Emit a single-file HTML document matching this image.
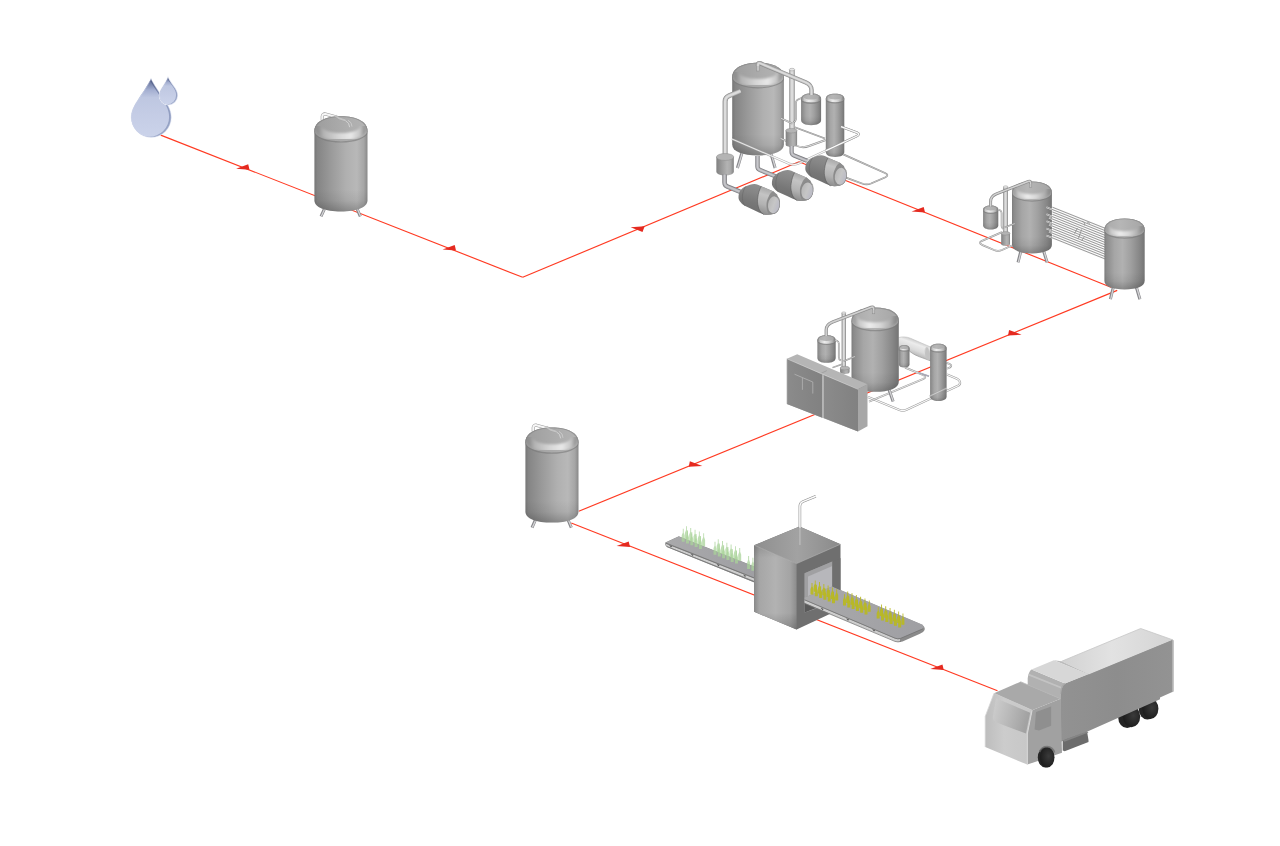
<!DOCTYPE html>
<html><head><meta charset="utf-8"><title>Process flow</title>
<style>html,body{margin:0;padding:0;background:#fff;overflow:hidden;}svg{display:block}</style></head>
<body>
<svg width="1280" height="846" viewBox="0 0 1280 846">
<defs>
<linearGradient id="gBody" x1="0" x2="1" y1="0" y2="0">
 <stop offset="0" stop-color="#767676"/><stop offset="0.06" stop-color="#868686"/>
 <stop offset="0.3" stop-color="#9a9a9a"/><stop offset="0.62" stop-color="#b3b3b3"/>
 <stop offset="0.82" stop-color="#a9a9a9"/><stop offset="0.94" stop-color="#8f8f8f"/>
 <stop offset="1" stop-color="#7c7c7c"/>
</linearGradient>
<linearGradient id="gDome" x1="0" x2="1" y1="0" y2="0">
 <stop offset="0" stop-color="#8a8a8a"/><stop offset="0.12" stop-color="#b4b4b4"/>
 <stop offset="0.5" stop-color="#d9d9d9"/><stop offset="0.85" stop-color="#c4c4c4"/>
 <stop offset="1" stop-color="#8e8e8e"/>
</linearGradient>
<linearGradient id="gCap" x1="0" x2="1" y1="0" y2="0">
 <stop offset="0" stop-color="#a0a0a0"/><stop offset="0.5" stop-color="#adadad"/>
 <stop offset="1" stop-color="#b9b9b9"/>
</linearGradient>
<linearGradient id="gBot" x1="0" x2="0" y1="0" y2="1">
 <stop offset="0" stop-color="#000" stop-opacity="0"/><stop offset="0.5" stop-color="#000" stop-opacity="0.06"/><stop offset="1" stop-color="#000" stop-opacity="0.24"/>
</linearGradient>
<linearGradient id="gPipeV" x1="0" x2="1" y1="0" y2="0">
 <stop offset="0" stop-color="#8c8c8c"/><stop offset="0.35" stop-color="#e2e2e2"/>
 <stop offset="0.7" stop-color="#bdbdbd"/><stop offset="1" stop-color="#858585"/>
</linearGradient>
<filter id="bl" x="-20%" y="-20%" width="140%" height="140%"><feGaussianBlur stdDeviation="0.7"/></filter>
<filter id="bl2" x="-20%" y="-20%" width="140%" height="140%"><feGaussianBlur stdDeviation="1.2"/></filter>
<filter id="soft" x="-5%" y="-5%" width="110%" height="110%"><feGaussianBlur stdDeviation="0.45"/></filter>


<linearGradient id="gBodyL" x1="0" x2="1" y1="0" y2="0">
 <stop offset="0" stop-color="#7c7c7c"/><stop offset="0.05" stop-color="#8b8b8b"/>
 <stop offset="0.25" stop-color="#a6a6a6"/><stop offset="0.45" stop-color="#b1b1b1"/>
 <stop offset="0.65" stop-color="#a0a0a0"/><stop offset="0.86" stop-color="#888888"/>
 <stop offset="1" stop-color="#747474"/>
</linearGradient>
<linearGradient id="gBodyR" x1="0" x2="1" y1="0" y2="0">
 <stop offset="0" stop-color="#767676"/><stop offset="0.06" stop-color="#858585"/>
 <stop offset="0.3" stop-color="#999999"/><stop offset="0.6" stop-color="#b0b0b0"/>
 <stop offset="0.8" stop-color="#b8b8b8"/><stop offset="0.93" stop-color="#a6a6a6"/>
 <stop offset="1" stop-color="#888888"/>
</linearGradient>
<linearGradient id="gDomeL" x1="0" x2="1" y1="0" y2="0">
 <stop offset="0" stop-color="#a0a0a0"/><stop offset="0.1" stop-color="#c8c8c8"/>
 <stop offset="0.36" stop-color="#ececec"/><stop offset="0.62" stop-color="#d8d8d8"/>
 <stop offset="0.86" stop-color="#b2b2b2"/><stop offset="1" stop-color="#8c8c8c"/>
</linearGradient>
<linearGradient id="gDomeR" x1="0" x2="1" y1="0" y2="0">
 <stop offset="0" stop-color="#909090"/><stop offset="0.12" stop-color="#b4b4b4"/>
 <stop offset="0.45" stop-color="#d6d6d6"/><stop offset="0.72" stop-color="#e8e8e8"/>
 <stop offset="0.92" stop-color="#c6c6c6"/><stop offset="1" stop-color="#9c9c9c"/>
</linearGradient>
<linearGradient id="gCapL" x1="0" x2="1" y1="0" y2="0">
 <stop offset="0" stop-color="#a8a8a8"/><stop offset="0.4" stop-color="#b6b6b6"/><stop offset="1" stop-color="#a4a4a4"/>
</linearGradient>
<linearGradient id="gCapR" x1="0" x2="1" y1="0" y2="0">
 <stop offset="0" stop-color="#9c9c9c"/><stop offset="0.6" stop-color="#adadad"/><stop offset="1" stop-color="#b4b4b4"/>
</linearGradient>


<linearGradient id="gDrop" x1="0" x2="0" y1="0" y2="1">
 <stop offset="0" stop-color="#48547e"/><stop offset="0.08" stop-color="#6f7ca4"/>
 <stop offset="0.2" stop-color="#a3aed0"/><stop offset="0.33" stop-color="#bec7e1"/>
 <stop offset="0.6" stop-color="#c4cce5"/><stop offset="1" stop-color="#cbd3ea"/>
</linearGradient>
<linearGradient id="gDropE" x1="0" x2="0" y1="0" y2="1">
 <stop offset="0" stop-color="#48547e"/><stop offset="0.3" stop-color="#8a97bc"/><stop offset="1" stop-color="#9ba7c8"/>
</linearGradient>

<clipPath id="cDb"><path d="M151,78.6 C153.2,84 159.5,92.5 164.8,100.6 C169.2,107 171.2,111.8 171.2,117.4 A19.95,19.95 0 0 1 131.3,117.4 C131.3,111.4 133.6,106.4 137.8,100.2 C143.2,92.2 148.8,84 151,78.6 Z"/></clipPath><clipPath id="cDs"><path d="M168,77.4 C169.3,80.5 172.5,84.5 175,88.3 C176.8,91 177.4,93.2 177.4,95.7 A8.95,8.95 0 0 1 159.5,95.7 C159.5,93 160.3,90.8 162,88.2 C164.3,84.5 166.9,80.5 168,77.4 Z"/></clipPath>
<clipPath id="tc1"><path d="M314.40,130.87 L314.40,200.28 C314.40,207.46 325.02,211.50 340.95,211.50 C356.88,211.50 367.50,207.46 367.50,200.28 L367.50,130.87 C367.50,121.78 356.88,116.20 340.95,116.20 C325.02,116.20 314.40,121.78 314.40,130.87 Z"/></clipPath>
<clipPath id="tc2"><path d="M525.40,442.07 L525.40,511.38 C525.40,518.56 536.02,522.60 551.95,522.60 C567.88,522.60 578.50,518.56 578.50,511.38 L578.50,442.07 C578.50,432.98 567.88,427.40 551.95,427.40 C536.02,427.40 525.40,432.98 525.40,442.07 Z"/></clipPath>

<linearGradient id="gPump" gradientUnits="userSpaceOnUse" x1="22" y1="10" x2="14" y2="38">
 <stop offset="0" stop-color="#8e8e8e"/><stop offset="0.25" stop-color="#868686"/>
 <stop offset="0.6" stop-color="#777"/><stop offset="1" stop-color="#6e6e6e"/>
</linearGradient>
<linearGradient id="gPumpF" gradientUnits="userSpaceOnUse" x1="42" y1="14" x2="34" y2="41">
 <stop offset="0" stop-color="#a2a2a2"/><stop offset="0.3" stop-color="#c4c4c4"/>
 <stop offset="0.65" stop-color="#b2b2b2"/><stop offset="1" stop-color="#8a8a8a"/>
</linearGradient>
<linearGradient id="gFace" x1="0" x2="1" y1="0" y2="0.3">
 <stop offset="0" stop-color="#b4b4b4"/><stop offset="0.6" stop-color="#c6c6c6"/><stop offset="1" stop-color="#bcbcc6"/>
</linearGradient>
<g id="pump">
 <path d="M10.3,23.6 C10.4,20.8 10.9,18.6 12.1,17.1 C13.6,15.2 15.5,13.6 17.7,12.7 C20.4,11.4 23.2,10.5 26,10.3 C28.5,10.2 30.8,11.6 33.1,12.7 L44.9,17.7 C45.8,18.4 46.6,19.4 47.3,20.4 C49,22 50.6,23.6 51.4,25.4 C51.9,27.3 51.9,29.4 51.7,31.3 C51.6,33.2 51.1,35 50.2,36.6 C49,38.6 47.2,40.1 44.9,40.5 C42,41.3 38.5,41.4 35.5,40.8 C32.3,39.6 29.1,38.1 26,36.6 L16.5,32.2 C14.6,31 13,29.5 11.8,27.8 C10.8,26.6 10.3,25.2 10.3,23.6 Z" fill="url(#gPump)"/>
 <path d="M33.1,12.7 L44.9,17.7 C45.8,18.4 46.6,19.4 47.3,20.4 L51.4,25.4 L50.2,36.6 C49,38.6 47.2,40.1 44.9,40.5 C42,41.3 38.5,41.4 35.5,40.8 C32.5,39 30.6,36.2 30.1,33.1 C29.2,29.8 29,26.6 29.6,23.6 C30.1,19.8 31.2,15.7 33.1,12.7 Z" fill="url(#gPumpF)"/>
 <path d="M33.1,12.7 C31.2,15.7 30.1,19.8 29.6,23.6 C29,26.6 29.2,29.8 30.1,33.1 C30.6,36.2 32.5,39 35.5,40.8" fill="none" stroke="#5f5f5f" stroke-width="0.8" stroke-opacity="0.8"/>
 <path d="M17.7,12.7 C15.6,15.5 14.4,19 14.2,22.5 C14,26 14.8,29.5 16.5,32.2" fill="none" stroke="#606060" stroke-width="0.8" stroke-opacity="0.6"/>
 <path d="M44.9,17.7 C42.6,19 41.4,20.8 40.4,23.2 C39,26 38.2,28.4 38.3,31 C38.3,34.2 38.6,37.6 40.4,40.6 L44.9,40.5 L51.4,32 L49,21 Z" fill="#8d8d8d"/>
 <ellipse cx="45.2" cy="31.1" rx="6.5" ry="9.3" fill="#8a8a8a" transform="rotate(8 45.2 31.1)"/>
 <ellipse cx="45.5" cy="31.2" rx="5.7" ry="8.5" fill="url(#gFace)" transform="rotate(8 45.5 31.2)"/>
</g>

<clipPath id="tc3"><path d="M732.20,77.00 L732.20,144.46 C732.20,151.46 742.54,155.40 758.05,155.40 C773.56,155.40 783.90,151.46 783.90,144.46 L783.90,77.00 C783.90,68.13 773.56,62.70 758.05,62.70 C742.54,62.70 732.20,68.13 732.20,77.00 Z"/></clipPath>
<clipPath id="cc1"><path d="M825.80,98.80 L825.80,152.00 C825.80,155.14 829.50,156.90 835.05,156.90 C840.60,156.90 844.30,155.14 844.30,152.00 L844.30,98.80 C844.30,95.64 840.60,93.70 835.05,93.70 C829.50,93.70 825.80,95.64 825.80,98.80 Z"/></clipPath>
<clipPath id="cc2"><path d="M801.10,98.80 L801.10,120.00 C801.10,123.33 805.10,125.20 811.10,125.20 C817.10,125.20 821.10,123.33 821.10,120.00 L821.10,98.80 C821.10,95.45 817.10,93.40 811.10,93.40 C805.10,93.40 801.10,95.45 801.10,98.80 Z"/></clipPath>
<clipPath id="tc4"><path d="M1012.00,192.57 L1012.00,244.82 C1012.00,250.31 1019.98,253.40 1031.95,253.40 C1043.92,253.40 1051.90,250.31 1051.90,244.82 L1051.90,192.57 C1051.90,185.65 1043.92,181.40 1031.95,181.40 C1019.98,181.40 1012.00,185.65 1012.00,192.57 Z"/></clipPath>
<clipPath id="cc3"><path d="M983.10,209.84 L983.10,225.36 C983.10,228.07 986.14,229.60 990.70,229.60 C995.26,229.60 998.30,228.07 998.30,225.36 L998.30,209.84 C998.30,207.09 995.26,205.40 990.70,205.40 C986.14,205.40 983.10,207.09 983.10,209.84 Z"/></clipPath>
<clipPath id="tc5"><path d="M1104.40,229.68 L1104.40,280.74 C1104.40,286.28 1112.46,289.40 1124.55,289.40 C1136.64,289.40 1144.70,286.28 1144.70,280.74 L1144.70,229.68 C1144.70,222.69 1136.64,218.40 1124.55,218.40 C1112.46,218.40 1104.40,222.69 1104.40,229.68 Z"/></clipPath>

<linearGradient id="gThick" gradientUnits="userSpaceOnUse" x1="920" y1="341" x2="914" y2="357">
 <stop offset="0" stop-color="#c6c6c6"/><stop offset="0.25" stop-color="#ececec"/><stop offset="0.6" stop-color="#dadada"/><stop offset="0.85" stop-color="#bcbcbc"/><stop offset="1" stop-color="#9c9c9c"/>
</linearGradient>
<linearGradient id="gPanel" x1="0" x2="1" y1="0" y2="0">
 <stop offset="0" stop-color="#8b8b8b"/><stop offset="1" stop-color="#818181"/>
</linearGradient>

<clipPath id="cc4"><path d="M898.90,348.52 L898.90,364.28 C898.90,366.40 901.02,367.60 904.20,367.60 C907.38,367.60 909.50,366.40 909.50,364.28 L909.50,348.52 C909.50,346.34 907.38,345.00 904.20,345.00 C901.02,345.00 898.90,346.34 898.90,348.52 Z"/></clipPath>
<clipPath id="tc6"><path d="M851.50,320.73 L851.50,381.74 C851.50,388.18 860.96,391.80 875.15,391.80 C889.34,391.80 898.80,388.18 898.80,381.74 L898.80,320.73 C898.80,312.59 889.34,307.60 875.15,307.60 C860.96,307.60 851.50,312.59 851.50,320.73 Z"/></clipPath>
<clipPath id="cc5"><path d="M930.10,348.40 L930.10,396.50 C930.10,399.38 933.40,401.00 938.35,401.00 C943.30,401.00 946.60,399.38 946.60,396.50 L946.60,348.40 C946.60,345.49 943.30,343.70 938.35,343.70 C933.40,343.70 930.10,345.49 930.10,348.40 Z"/></clipPath>
<clipPath id="cc6"><path d="M817.40,340.36 L817.40,357.94 C817.40,361.05 821.06,362.80 826.55,362.80 C832.04,362.80 835.70,361.05 835.70,357.94 L835.70,340.36 C835.70,337.22 832.04,335.30 826.55,335.30 C821.06,335.30 817.40,337.22 817.40,340.36 Z"/></clipPath>

<linearGradient id="gBelt" x1="0" x2="1" y1="0" y2="0">
 <stop offset="0" stop-color="#a9a9ab"/><stop offset="1" stop-color="#9f9fa3"/>
</linearGradient>
<linearGradient id="gBoxL" x1="0" x2="1" y1="0" y2="0">
 <stop offset="0" stop-color="#8a8a8a"/><stop offset="0.12" stop-color="#a6a6a6"/><stop offset="0.5" stop-color="#b2b2b2"/>
 <stop offset="0.85" stop-color="#a4a4a4"/><stop offset="1" stop-color="#8c8c8c"/>
</linearGradient>
<linearGradient id="gBoxLv" x1="0" x2="0" y1="0" y2="1">
 <stop offset="0" stop-color="#000" stop-opacity="0.12"/><stop offset="0.15" stop-color="#000" stop-opacity="0"/>
 <stop offset="0.8" stop-color="#000" stop-opacity="0"/><stop offset="1" stop-color="#000" stop-opacity="0.18"/>
</linearGradient>
<linearGradient id="gBoxT" x1="0" x2="1" y1="0" y2="0">
 <stop offset="0" stop-color="#8e8e8e"/><stop offset="0.5" stop-color="#a2a2a2"/><stop offset="1" stop-color="#8a8a8a"/>
</linearGradient>
<g id="btlG"><path d="M0,0 L-0.35,-6.5 L-1.3,-9 L-1.3,-9.6 L-0.3,-13.8 L0.3,-13.8 L1.3,-9.6 L1.3,-9 L0.35,-6.5 Z" transform="scale(1,0.92)"/></g>


<linearGradient id="gTrTop" x1="0" x2="1" y1="0" y2="0">
 <stop offset="0" stop-color="#d2d2d2"/><stop offset="0.45" stop-color="#e2e2e2"/><stop offset="1" stop-color="#d4d4d4"/>
</linearGradient>
<linearGradient id="gTrSide" x1="0" x2="1" y1="0" y2="0">
 <stop offset="0" stop-color="#929292"/><stop offset="0.5" stop-color="#8d8d8d"/><stop offset="1" stop-color="#939393"/>
</linearGradient>
<linearGradient id="gCabF" x1="0" x2="1" y1="0" y2="0">
 <stop offset="0" stop-color="#bdbdbd"/><stop offset="0.4" stop-color="#cccccc"/><stop offset="1" stop-color="#c6c6c6"/>
</linearGradient>
<linearGradient id="gWind" x1="0" x2="1" y1="0" y2="0.25">
 <stop offset="0" stop-color="#cfcfcf"/><stop offset="0.45" stop-color="#bcbcbc"/><stop offset="1" stop-color="#a2a2a2"/>
</linearGradient>
<radialGradient id="gWheel" cx="0.6" cy="0.45" r="0.6">
 <stop offset="0" stop-color="#3a3a3a"/><stop offset="1" stop-color="#1c1c1c"/>
</radialGradient>
</defs>
<line x1="160.7" y1="135.1" x2="522.7" y2="277.3" stroke="#ff3a22" stroke-width="1.15"/>
<line x1="522.7" y1="277.3" x2="799" y2="161.8" stroke="#ff3a22" stroke-width="1.15"/>
<line x1="799" y1="161.8" x2="1111.5" y2="287.5" stroke="#ff3a22" stroke-width="1.15"/>
<line x1="1117.2" y1="290.4" x2="578.75" y2="511.25" stroke="#ff3a22" stroke-width="1.15"/>
<line x1="571.25" y1="523" x2="997.5" y2="690.75" stroke="#ff3a22" stroke-width="1.15"/>
<path d="M249.5,169.8 L236.1,168.8 L248.2,164.3 Z" fill="#e52a20"/>
<path d="M456,250.5 L442.6,249.5 L454.7,245.0 Z" fill="#e52a20"/>
<path d="M925,212.5 L911.6,211.5 L923.7,207.0 Z" fill="#e52a20"/>
<path d="M630,547 L616.6,546 L628.7,541.5 Z" fill="#e52a20"/>
<path d="M943.75,670 L930.35,669 L942.45,664.5 Z" fill="#e52a20"/>
<path d="M1008,335.5 L1009.1,330.0 L1021.6,334.7 Z" fill="#e52a20"/>
<path d="M688.75,466.75 L689.85,461.25 L702.35,465.95 Z" fill="#e52a20"/>
<path d="M644.7,226.2 L630.6,227.2 L642.5,231.89999999999998 Z" fill="#e52a20"/>
<path d="M151,78.6 C153.2,84 159.5,92.5 164.8,100.6 C169.2,107 171.2,111.8 171.2,117.4 A19.95,19.95 0 0 1 131.3,117.4 C131.3,111.4 133.6,106.4 137.8,100.2 C143.2,92.2 148.8,84 151,78.6 Z" fill="url(#gDropE)"/>
<g clip-path="url(#cDb)"><path d="M151,78.6 C153.2,84 159.5,92.5 164.8,100.6 C169.2,107 171.2,111.8 171.2,117.4 A19.95,19.95 0 0 1 131.3,117.4 C131.3,111.4 133.6,106.4 137.8,100.2 C143.2,92.2 148.8,84 151,78.6 Z" fill="url(#gDrop)" transform="translate(-2.1,-0.5)" filter="url(#bl)"/></g>
<path d="M151,78.6 C153.2,84 159.5,92.5 164.8,100.6 C169.2,107 171.2,111.8 171.2,117.4 A19.95,19.95 0 0 1 131.3,117.4 C131.3,111.4 133.6,106.4 137.8,100.2 C143.2,92.2 148.8,84 151,78.6 Z" fill="none" stroke="#d9dff0" stroke-opacity="0.55" stroke-width="0.9"/>
<path d="M168,77.4 C169.3,80.5 172.5,84.5 175,88.3 C176.8,91 177.4,93.2 177.4,95.7 A8.95,8.95 0 0 1 159.5,95.7 C159.5,93 160.3,90.8 162,88.2 C164.3,84.5 166.9,80.5 168,77.4 Z" fill="#fff" stroke="#eef0f8" stroke-width="1.4"/>
<path d="M168,77.4 C169.3,80.5 172.5,84.5 175,88.3 C176.8,91 177.4,93.2 177.4,95.7 A8.95,8.95 0 0 1 159.5,95.7 C159.5,93 160.3,90.8 162,88.2 C164.3,84.5 166.9,80.5 168,77.4 Z" fill="url(#gDropE)"/>
<g clip-path="url(#cDs)"><path d="M168,77.4 C169.3,80.5 172.5,84.5 175,88.3 C176.8,91 177.4,93.2 177.4,95.7 A8.95,8.95 0 0 1 159.5,95.7 C159.5,93 160.3,90.8 162,88.2 C164.3,84.5 166.9,80.5 168,77.4 Z" fill="url(#gDrop)" transform="translate(-1.3,-0.4)" filter="url(#soft)"/></g>
<path d="M168,77.4 C169.3,80.5 172.5,84.5 175,88.3 C176.8,91 177.4,93.2 177.4,95.7 A8.95,8.95 0 0 1 159.5,95.7 C159.5,93 160.3,90.8 162,88.2 C164.3,84.5 166.9,80.5 168,77.4 Z" fill="none" stroke="#d9dff0" stroke-opacity="0.5" stroke-width="0.7"/>
<path d="M322.29999999999995,120.60000000000001 L322.29999999999995,116.4 Q322.5,113.7 325.4,114.0 L336.4,117.10000000000001" fill="none" stroke="#9a9a9a" stroke-width="3.2" stroke-linejoin="round"/><path d="M322.29999999999995,120.60000000000001 L322.29999999999995,116.4 Q322.5,113.7 325.4,114.0 L336.4,117.10000000000001" fill="none" stroke="#f6f6f6" stroke-width="2.1" stroke-linejoin="round"/>
<line x1="324.2" y1="209.3" x2="321.0" y2="216.3" stroke="#86868a" stroke-width="3.0"/><line x1="324.5" y1="209.3" x2="321.3" y2="216.3" stroke="#d4d4d6" stroke-width="1.3"/>
<line x1="357.1" y1="208.9" x2="360.3" y2="216.3" stroke="#86868a" stroke-width="3.0"/><line x1="357.4" y1="208.9" x2="360.6" y2="216.3" stroke="#d4d4d6" stroke-width="1.3"/>
<path d="M314.40,130.87 L314.40,200.28 C314.40,207.46 325.02,211.50 340.95,211.50 C356.88,211.50 367.50,207.46 367.50,200.28 L367.50,130.87 C367.50,121.78 356.88,116.20 340.95,116.20 C325.02,116.20 314.40,121.78 314.40,130.87 Z" fill="url(#gBodyR)"/>
<g clip-path="url(#tc1)">
<rect x="314.4" y="189.7" width="53.1" height="22.3" fill="url(#gBot)"/>
<path d="M313.40,130.87 L314.40,130.87 A26.55,10.62 0 0 0 367.50,130.87 L368.50,130.87 L368.50,114.20 L313.40,114.20 Z" fill="url(#gCapR)"/>
<path d="M318.38,128.11 A22.57,8.71 0 0 0 363.52,128.11" fill="none" stroke="url(#gDomeR)" stroke-width="7.65" stroke-linecap="round" filter="url(#bl2)"/>
<path d="M314.40,131.87 C314.40,121.78 325.02,116.20 340.95,116.20 C356.88,116.20 367.50,121.78 367.50,131.87" fill="none" stroke="#7e7e7e" stroke-opacity="0.6" stroke-width="1.6" filter="url(#bl)"/>
<path d="M314.40,131.37 A26.55,10.62 0 0 0 367.50,131.37" fill="none" stroke="#787878" stroke-opacity="0.6" stroke-width="1.2" filter="url(#bl)"/>
</g>
<g opacity="0.6"><path d="M335.4,115.8 L339.2,118.4 L345.4,120.4" fill="none" stroke="#a0a0a0" stroke-width="2.8" stroke-linejoin="round"/><path d="M335.4,115.8 L339.2,118.4 L345.4,120.4" fill="none" stroke="#d6d6d6" stroke-width="1.7" stroke-linejoin="round"/></g><path d="M345.4,120.60000000000001 Q349.4,122.60000000000001 349.7,127.2" fill="none" stroke="#d6d6d6" stroke-width="0.9"/><path d="M348.0,120.2 Q352.0,122.2 352.0,126.60000000000001" fill="none" stroke="#cfcfcf" stroke-width="0.8"/>
<path d="M533.3,431.79999999999995 L533.3,427.59999999999997 Q533.5,424.9 536.4,425.2 L547.4,428.29999999999995" fill="none" stroke="#9a9a9a" stroke-width="3.2" stroke-linejoin="round"/><path d="M533.3,431.79999999999995 L533.3,427.59999999999997 Q533.5,424.9 536.4,425.2 L547.4,428.29999999999995" fill="none" stroke="#f6f6f6" stroke-width="2.1" stroke-linejoin="round"/>
<line x1="535.2" y1="520.4" x2="532.0" y2="527.6" stroke="#86868a" stroke-width="3.0"/><line x1="535.5" y1="520.4" x2="532.3" y2="527.6" stroke="#d4d4d6" stroke-width="1.3"/>
<line x1="568.1" y1="520.0" x2="571.3" y2="527.6" stroke="#86868a" stroke-width="3.0"/><line x1="568.4" y1="520.0" x2="571.6" y2="527.6" stroke="#d4d4d6" stroke-width="1.3"/>
<path d="M525.40,442.07 L525.40,511.38 C525.40,518.56 536.02,522.60 551.95,522.60 C567.88,522.60 578.50,518.56 578.50,511.38 L578.50,442.07 C578.50,432.98 567.88,427.40 551.95,427.40 C536.02,427.40 525.40,432.98 525.40,442.07 Z" fill="url(#gBodyR)"/>
<g clip-path="url(#tc2)">
<rect x="525.4" y="500.8" width="53.1" height="22.3" fill="url(#gBot)"/>
<path d="M524.40,442.07 L525.40,442.07 A26.55,10.62 0 0 0 578.50,442.07 L579.50,442.07 L579.50,425.40 L524.40,425.40 Z" fill="url(#gCapR)"/>
<path d="M529.38,439.31 A22.57,8.71 0 0 0 574.52,439.31" fill="none" stroke="url(#gDomeR)" stroke-width="7.65" stroke-linecap="round" filter="url(#bl2)"/>
<path d="M525.40,443.07 C525.40,432.98 536.02,427.40 551.95,427.40 C567.88,427.40 578.50,432.98 578.50,443.07" fill="none" stroke="#7e7e7e" stroke-opacity="0.6" stroke-width="1.6" filter="url(#bl)"/>
<path d="M525.40,442.57 A26.55,10.62 0 0 0 578.50,442.57" fill="none" stroke="#787878" stroke-opacity="0.6" stroke-width="1.2" filter="url(#bl)"/>
</g>
<g opacity="0.6"><path d="M546.4,427.0 L550.1999999999999,429.59999999999997 L556.4,431.59999999999997" fill="none" stroke="#a0a0a0" stroke-width="2.8" stroke-linejoin="round"/><path d="M546.4,427.0 L550.1999999999999,429.59999999999997 L556.4,431.59999999999997" fill="none" stroke="#d6d6d6" stroke-width="1.7" stroke-linejoin="round"/></g><path d="M556.4,431.79999999999995 Q560.4,433.79999999999995 560.6999999999999,438.4" fill="none" stroke="#d6d6d6" stroke-width="0.9"/><path d="M559.0,431.4 Q563.0,433.4 563.0,437.79999999999995" fill="none" stroke="#cfcfcf" stroke-width="0.8"/>
<path d="M733,133.5 L743.5,129 M732.5,138.5 L744,133.5" fill="none" stroke="#8f8f8f" stroke-width="1.7" stroke-linejoin="round"/><path d="M733,133.5 L743.5,129 M732.5,138.5 L744,133.5" fill="none" stroke="#f2f2f2" stroke-width="0.6" stroke-linejoin="round"/>
<path d="M792,130 L792,69.5" fill="none" stroke="#8a8a8a" stroke-width="5.4" stroke-linejoin="round" stroke-linecap="butt"/><path d="M792,130 L792,69.5" fill="none" stroke="#bcbcbc" stroke-width="4.1" stroke-linejoin="round" stroke-linecap="butt"/><path d="M792,130 L792,69.5" fill="none" stroke="#dcdcdc" stroke-width="2.6" stroke-linejoin="round" stroke-linecap="butt"/>
<ellipse cx="792" cy="69.6" rx="2.7" ry="1.3" fill="#e6e6e6" stroke="#9a9a9a" stroke-width="0.5"/>
<path d="M794.8,127.2 L825,138.6" fill="none" stroke="#8a8a8a" stroke-width="1.6" stroke-linejoin="round"/><path d="M794.8,127.2 L825,138.6" fill="none" stroke="#e8e8e8" stroke-width="0.5" stroke-linejoin="round"/>
<line x1="741.8" y1="153.2" x2="737.4" y2="168.0" stroke="#86868a" stroke-width="3.0"/><line x1="742.1" y1="153.2" x2="737.7" y2="168.0" stroke="#d4d4d6" stroke-width="1.3"/>
<line x1="770.7" y1="152.8" x2="775.1" y2="168.0" stroke="#86868a" stroke-width="3.0"/><line x1="771.0" y1="152.8" x2="775.4" y2="168.0" stroke="#d4d4d6" stroke-width="1.3"/>
<path d="M732.20,77.00 L732.20,144.46 C732.20,151.46 742.54,155.40 758.05,155.40 C773.56,155.40 783.90,151.46 783.90,144.46 L783.90,77.00 C783.90,68.13 773.56,62.70 758.05,62.70 C742.54,62.70 732.20,68.13 732.20,77.00 Z" fill="url(#gBodyR)"/>
<g clip-path="url(#tc3)">
<rect x="732.2" y="134.1" width="51.7" height="21.8" fill="url(#gBot)"/>
<path d="M731.20,77.00 L732.20,77.00 A25.85,10.34 0 0 0 783.90,77.00 L784.90,77.00 L784.90,60.70 L731.20,60.70 Z" fill="url(#gCapR)"/>
<path d="M736.08,74.31 A21.97,8.48 0 0 0 780.02,74.31" fill="none" stroke="url(#gDomeR)" stroke-width="7.44" stroke-linecap="round" filter="url(#bl2)"/>
<path d="M732.20,78.00 C732.20,68.13 742.54,62.70 758.05,62.70 C773.56,62.70 783.90,68.13 783.90,78.00" fill="none" stroke="#7e7e7e" stroke-opacity="0.6" stroke-width="1.6" filter="url(#bl)"/>
<path d="M732.20,77.50 A25.85,10.34 0 0 0 783.90,77.50" fill="none" stroke="#787878" stroke-opacity="0.6" stroke-width="1.2" filter="url(#bl)"/>
</g>
<g opacity="0.8"><path d="M732,139 L789,163.6 Q794,165.6 799,163.3 L856.5,136.3 Q860.5,134.3 857,132.6 L841,126.6" fill="none" stroke="#9b9b9b" stroke-width="2.3" stroke-linejoin="round"/><path d="M732,139 L789,163.6 Q794,165.6 799,163.3 L856.5,136.3 Q860.5,134.3 857,132.6 L841,126.6" fill="none" stroke="#fcfcfc" stroke-width="1.2" stroke-linejoin="round"/></g>
<path d="M825.80,98.80 L825.80,152.00 C825.80,155.14 829.50,156.90 835.05,156.90 C840.60,156.90 844.30,155.14 844.30,152.00 L844.30,98.80 C844.30,95.64 840.60,93.70 835.05,93.70 C829.50,93.70 825.80,95.64 825.80,98.80 Z" fill="url(#gBodyL)"/>
<g clip-path="url(#cc1)">
<rect x="825.8" y="148.3" width="18.5" height="9.1" fill="url(#gBot)"/>
<path d="M824.80,98.80 L825.80,98.80 A9.25,3.70 0 0 0 844.30,98.80 L845.30,98.80 L845.30,91.70 L824.80,91.70 Z" fill="url(#gCapL)"/>
<path d="M827.19,97.84 A7.86,3.03 0 0 0 842.91,97.84" fill="none" stroke="url(#gDomeL)" stroke-width="2.66" stroke-linecap="round" filter="url(#bl)"/>
<path d="M825.80,99.80 C825.80,95.64 829.50,93.70 835.05,93.70 C840.60,93.70 844.30,95.64 844.30,99.80" fill="none" stroke="#7e7e7e" stroke-opacity="0.6" stroke-width="1.6" filter="url(#bl)"/>
<path d="M825.80,99.30 A9.25,3.70 0 0 0 844.30,99.30" fill="none" stroke="#787878" stroke-opacity="0.6" stroke-width="1.2" filter="url(#bl)"/>
</g>
<path d="M801.5,98 L798.5,99.2 Q796,100.2 796,102.6 L796,118 Q796,121 793.5,122.5" fill="none" stroke="#8f8f8f" stroke-width="1.7" stroke-linejoin="round"/><path d="M801.5,98 L798.5,99.2 Q796,100.2 796,102.6 L796,118 Q796,121 793.5,122.5" fill="none" stroke="#f2f2f2" stroke-width="0.6" stroke-linejoin="round"/>
<path d="M801.10,98.80 L801.10,120.00 C801.10,123.33 805.10,125.20 811.10,125.20 C817.10,125.20 821.10,123.33 821.10,120.00 L821.10,98.80 C821.10,95.45 817.10,93.40 811.10,93.40 C805.10,93.40 801.10,95.45 801.10,98.80 Z" fill="url(#gBodyL)"/>
<g clip-path="url(#cc2)">
<rect x="801.1" y="116.0" width="20.0" height="9.7" fill="url(#gBot)"/>
<path d="M800.10,98.80 L801.10,98.80 A10.00,4.00 0 0 0 821.10,98.80 L822.10,98.80 L822.10,91.40 L800.10,91.40 Z" fill="url(#gCapL)"/>
<path d="M802.60,97.76 A8.50,3.28 0 0 0 819.60,97.76" fill="none" stroke="url(#gDomeL)" stroke-width="2.88" stroke-linecap="round" filter="url(#bl)"/>
<path d="M801.10,99.80 C801.10,95.45 805.10,93.40 811.10,93.40 C817.10,93.40 821.10,95.45 821.10,99.80" fill="none" stroke="#7e7e7e" stroke-opacity="0.6" stroke-width="1.6" filter="url(#bl)"/>
<path d="M801.10,99.30 A10.00,4.00 0 0 0 821.10,99.30" fill="none" stroke="#787878" stroke-opacity="0.6" stroke-width="1.2" filter="url(#bl)"/>
</g>
<path d="M826,150.6 L856.5,136.3 Q860.5,134.3 857,132.6 L841,126.6" fill="none" stroke="#9b9b9b" stroke-width="2.3" stroke-linejoin="round"/><path d="M826,150.6 L856.5,136.3 Q860.5,134.3 857,132.6 L841,126.6" fill="none" stroke="#fcfcfc" stroke-width="1.2" stroke-linejoin="round"/>
<rect x="756.6" y="64.2" width="2.9" height="6.8" fill="#c4c4c4" stroke="#8d8d8d" stroke-width="0.5"/>
<path d="M758,66 L758,64.6 Q758,62.4 760.5,63.4 L806,82.5 Q811.5,85 811.5,90 L811.5,95" fill="none" stroke="#8a8a8a" stroke-width="4.4" stroke-linejoin="round" stroke-linecap="butt"/><path d="M758,66 L758,64.6 Q758,62.4 760.5,63.4 L806,82.5 Q811.5,85 811.5,90 L811.5,95" fill="none" stroke="#bcbcbc" stroke-width="3.1" stroke-linejoin="round" stroke-linecap="butt"/><path d="M758,66 L758,64.6 Q758,62.4 760.5,63.4 L806,82.5 Q811.5,85 811.5,90 L811.5,95" fill="none" stroke="#dcdcdc" stroke-width="1.6" stroke-linejoin="round" stroke-linecap="butt"/>
<path d="M781,118.3 L792.5,123.6" fill="none" stroke="#8f8f8f" stroke-width="1.8" stroke-linejoin="round"/><path d="M781,118.3 L792.5,123.6" fill="none" stroke="#f2f2f2" stroke-width="0.7" stroke-linejoin="round"/>
<path d="M780.6,138.4 L796,145.5 Q802.5,148.6 809,146 L825.6,140" fill="none" stroke="#8f8f8f" stroke-width="1.9" stroke-linejoin="round"/><path d="M780.6,138.4 L796,145.5 Q802.5,148.6 809,146 L825.6,140" fill="none" stroke="#f2f2f2" stroke-width="0.8" stroke-linejoin="round"/>
<path d="M740.5,91 L729,95.8 Q725.1,97.5 725.1,101.5 L725.1,157" fill="none" stroke="#8a8a8a" stroke-width="5.0" stroke-linejoin="round" stroke-linecap="butt"/><path d="M740.5,91 L729,95.8 Q725.1,97.5 725.1,101.5 L725.1,157" fill="none" stroke="#bcbcbc" stroke-width="3.7" stroke-linejoin="round" stroke-linecap="butt"/><path d="M740.5,91 L729,95.8 Q725.1,97.5 725.1,101.5 L725.1,157" fill="none" stroke="#dcdcdc" stroke-width="2.2" stroke-linejoin="round" stroke-linecap="butt"/>
<path d="M716.4,156.98 L716.4,172.12 A8.7,3.48 0 0 0 733.8000000000001,172.12 L733.8000000000001,156.98 Z" fill="url(#gBody)"/><ellipse cx="725.1" cy="156.98" rx="8.7" ry="3.48" fill="#b4b4b4" stroke="#8a8a8a" stroke-width="0.5"/>
<path d="M724.6,174.5 L724.6,182.6 Q724.6,185.4 727,186.4 L741,192.2" fill="none" stroke="#7c7c80" stroke-width="4.6" stroke-linejoin="round" stroke-linecap="butt"/><path d="M724.6,174.5 L724.6,182.6 Q724.6,185.4 727,186.4 L741,192.2" fill="none" stroke="#a4a4a8" stroke-width="3.3" stroke-linejoin="round" stroke-linecap="butt"/><path d="M724.6,174.5 L724.6,182.6 Q724.6,185.4 727,186.4 L741,192.2" fill="none" stroke="#c4c4c8" stroke-width="1.8" stroke-linejoin="round" stroke-linecap="butt"/>
<path d="M757.5,156 L757.5,166.5 Q757.5,169 760,170 L776,176.5" fill="none" stroke="#7c7c80" stroke-width="4.4" stroke-linejoin="round" stroke-linecap="butt"/><path d="M757.5,156 L757.5,166.5 Q757.5,169 760,170 L776,176.5" fill="none" stroke="#a8a8ac" stroke-width="3.1" stroke-linejoin="round" stroke-linecap="butt"/><path d="M757.5,156 L757.5,166.5 Q757.5,169 760,170 L776,176.5" fill="none" stroke="#c8c8cc" stroke-width="1.6" stroke-linejoin="round" stroke-linecap="butt"/>
<path d="M785.6999999999999,130.68 L785.6999999999999,144.72 A5.7,2.2800000000000002 0 0 0 797.1,144.72 L797.1,130.68 Z" fill="url(#gBody)"/><ellipse cx="791.4" cy="130.68" rx="5.7" ry="2.2800000000000002" fill="#b4b4b4" stroke="#8a8a8a" stroke-width="0.5"/>
<path d="M791.6,146 L791.6,152 Q791.6,154.5 794,155.5 L807,160.8" fill="none" stroke="#7c7c80" stroke-width="4.2" stroke-linejoin="round" stroke-linecap="butt"/><path d="M791.6,146 L791.6,152 Q791.6,154.5 794,155.5 L807,160.8" fill="none" stroke="#a8a8ac" stroke-width="2.9" stroke-linejoin="round" stroke-linecap="butt"/><path d="M791.6,146 L791.6,152 Q791.6,154.5 794,155.5 L807,160.8" fill="none" stroke="#c8c8cc" stroke-width="1.4" stroke-linejoin="round" stroke-linecap="butt"/>
<path d="M843.3,154.4 L885,173 Q889.5,175.2 885.5,177.2 L871,183.5 Q866.5,185.3 862,183.5 L846,177.6" fill="none" stroke="#8c8c8c" stroke-width="1.7" stroke-linejoin="round"/><path d="M843.3,154.4 L885,173 Q889.5,175.2 885.5,177.2 L871,183.5 Q866.5,185.3 862,183.5 L846,177.6" fill="none" stroke="#e4e4e4" stroke-width="0.6" stroke-linejoin="round"/>
<use href="#pump" x="795" y="145"/>
<use href="#pump" x="761.6" y="159.7"/>
<use href="#pump" x="728.2" y="173.6"/>
<path d="M1002,232.2 L982,240.8 Q978,242.8 982,244.8 L994,250 Q998,251.6 1002,250 L1012,245.5" fill="none" stroke="#8f8f8f" stroke-width="1.8" stroke-linejoin="round"/><path d="M1002,232.2 L982,240.8 Q978,242.8 982,244.8 L994,250 Q998,251.6 1002,250 L1012,245.5" fill="none" stroke="#f2f2f2" stroke-width="0.7" stroke-linejoin="round"/>
<path d="M1005.6,233 L1005.6,187" fill="none" stroke="#8a8a8a" stroke-width="4.8" stroke-linejoin="round" stroke-linecap="butt"/><path d="M1005.6,233 L1005.6,187" fill="none" stroke="#bcbcbc" stroke-width="3.5" stroke-linejoin="round" stroke-linecap="butt"/><path d="M1005.6,233 L1005.6,187" fill="none" stroke="#dcdcdc" stroke-width="2.0" stroke-linejoin="round" stroke-linecap="butt"/>
<ellipse cx="1005.6" cy="187" rx="2.4" ry="1.2" fill="#e6e6e6" stroke="#9a9a9a" stroke-width="0.5"/>
<line x1="1020.8" y1="251.2" x2="1018.0" y2="262.4" stroke="#86868a" stroke-width="3.0"/><line x1="1021.1" y1="251.2" x2="1018.3" y2="262.4" stroke="#d4d4d6" stroke-width="1.3"/>
<line x1="1043.5" y1="250.8" x2="1047.1" y2="262.4" stroke="#86868a" stroke-width="3.0"/><line x1="1043.8" y1="250.8" x2="1047.4" y2="262.4" stroke="#d4d4d6" stroke-width="1.3"/>
<path d="M1012.00,192.57 L1012.00,244.82 C1012.00,250.31 1019.98,253.40 1031.95,253.40 C1043.92,253.40 1051.90,250.31 1051.90,244.82 L1051.90,192.57 C1051.90,185.65 1043.92,181.40 1031.95,181.40 C1019.98,181.40 1012.00,185.65 1012.00,192.57 Z" fill="url(#gBodyL)"/>
<g clip-path="url(#tc4)">
<rect x="1012.0" y="236.8" width="39.9" height="17.1" fill="url(#gBot)"/>
<path d="M1011.00,192.57 L1012.00,192.57 A19.95,7.98 0 0 0 1051.90,192.57 L1052.90,192.57 L1052.90,179.40 L1011.00,179.40 Z" fill="url(#gCapL)"/>
<path d="M1014.99,190.50 A16.96,6.54 0 0 0 1048.91,190.50" fill="none" stroke="url(#gDomeL)" stroke-width="5.75" stroke-linecap="round" filter="url(#bl2)"/>
<path d="M1012.00,193.57 C1012.00,185.65 1019.98,181.40 1031.95,181.40 C1043.92,181.40 1051.90,185.65 1051.90,193.57" fill="none" stroke="#7e7e7e" stroke-opacity="0.6" stroke-width="1.6" filter="url(#bl)"/>
<path d="M1012.00,193.07 A19.95,7.98 0 0 0 1051.90,193.07" fill="none" stroke="#787878" stroke-opacity="0.6" stroke-width="1.2" filter="url(#bl)"/>
</g>
<path d="M1052.4,207.20 L1106,228.64 M1046.5,207.20 L1106,231.00 M1052.4,211.92 L1106,233.36 M1052.4,214.28 L1106,235.72 M1046.5,214.28 L1106,238.08 M1049,217.64 L1106,240.44 M1052.4,221.36 L1106,242.80 M1046.5,221.36 L1106,245.16 M1049,224.72 L1106,247.52 M1052.4,228.44 L1106,249.88 M1046.5,228.44 L1106,252.24 M1049,231.80 L1106,254.60 M1052.4,235.52 L1106,256.96 M1046.5,235.52 L1106,259.32" fill="none" stroke="#f4f4f4" stroke-width="1.6"/>
<path d="M1052.4,207.20 L1106,228.64 M1046.5,207.20 L1106,231.00 M1052.4,211.92 L1106,233.36 M1052.4,214.28 L1106,235.72 M1046.5,214.28 L1106,238.08 M1049,217.64 L1106,240.44 M1052.4,221.36 L1106,242.80 M1046.5,221.36 L1106,245.16 M1049,224.72 L1106,247.52 M1052.4,228.44 L1106,249.88 M1046.5,228.44 L1106,252.24 M1049,231.80 L1106,254.60 M1052.4,235.52 L1106,256.96 M1046.5,235.52 L1106,259.32" fill="none" stroke="#7c7c7c" stroke-width="0.75"/>
<path d="M1082,221.2 Q1085.4,222.2 1084.6,225.4 M1087.2,222.2 L1090,223.4 M1077.5,228 L1074.6,233.6 M1081.6,229.4 L1078.4,238.6 M1084.4,236.6 L1081.6,240.6" fill="none" stroke="#8e8e8e" stroke-width="0.8"/>
<path d="M983.10,209.84 L983.10,225.36 C983.10,228.07 986.14,229.60 990.70,229.60 C995.26,229.60 998.30,228.07 998.30,225.36 L998.30,209.84 C998.30,207.09 995.26,205.40 990.70,205.40 C986.14,205.40 983.10,207.09 983.10,209.84 Z" fill="url(#gBodyL)"/>
<g clip-path="url(#cc3)">
<rect x="983.1" y="222.3" width="15.2" height="7.8" fill="url(#gBot)"/>
<path d="M982.10,209.84 L983.10,209.84 A7.60,3.04 0 0 0 998.30,209.84 L999.30,209.84 L999.30,203.40 L982.10,203.40 Z" fill="url(#gCapL)"/>
<path d="M984.24,209.05 A6.46,2.49 0 0 0 997.16,209.05" fill="none" stroke="url(#gDomeL)" stroke-width="2.19" stroke-linecap="round" filter="url(#bl)"/>
<path d="M983.10,210.84 C983.10,207.09 986.14,205.40 990.70,205.40 C995.26,205.40 998.30,207.09 998.30,210.84" fill="none" stroke="#7e7e7e" stroke-opacity="0.6" stroke-width="1.6" filter="url(#bl)"/>
<path d="M983.10,210.34 A7.60,3.04 0 0 0 998.30,210.34" fill="none" stroke="#787878" stroke-opacity="0.6" stroke-width="1.2" filter="url(#bl)"/>
</g>
<path d="M998,209.5 L1000,210.2 Q1001.6,211 1001.6,213 L1001.6,226 Q1001.6,228.3 1003.6,229.2" fill="none" stroke="#8f8f8f" stroke-width="1.7" stroke-linejoin="round"/><path d="M998,209.5 L1000,210.2 Q1001.6,211 1001.6,213 L1001.6,226 Q1001.6,228.3 1003.6,229.2" fill="none" stroke="#f2f2f2" stroke-width="0.6" stroke-linejoin="round"/>
<rect x="1029.4" y="182.2" width="2.4" height="5.4" fill="#c4c4c4" stroke="#8d8d8d" stroke-width="0.5"/>
<path d="M1030.6,184 L1030.6,182.6 Q1030.6,180.6 1028.4,181.4 L996.5,193.8 Q990.6,196.2 990.6,201.5 L990.6,206.5" fill="none" stroke="#8a8a8a" stroke-width="3.0" stroke-linejoin="round" stroke-linecap="butt"/><path d="M1030.6,184 L1030.6,182.6 Q1030.6,180.6 1028.4,181.4 L996.5,193.8 Q990.6,196.2 990.6,201.5 L990.6,206.5" fill="none" stroke="#bcbcbc" stroke-width="1.7" stroke-linejoin="round" stroke-linecap="butt"/><path d="M1030.6,184 L1030.6,182.6 Q1030.6,180.6 1028.4,181.4 L996.5,193.8 Q990.6,196.2 990.6,201.5 L990.6,206.5" fill="none" stroke="#dcdcdc" stroke-width="0.8" stroke-linejoin="round" stroke-linecap="butt"/>
<path d="M1001.2,233.35999999999999 L1001.2,244.04000000000002 A4.4,1.7600000000000002 0 0 0 1010.0,244.04000000000002 L1010.0,233.35999999999999 Z" fill="url(#gBody)"/><ellipse cx="1005.6" cy="233.35999999999999" rx="4.4" ry="1.7600000000000002" fill="#b4b4b4" stroke="#8a8a8a" stroke-width="0.5"/>
<path d="M1004.5,227.6 L1014.8,223.6" fill="none" stroke="#8f8f8f" stroke-width="1.6" stroke-linejoin="round"/><path d="M1004.5,227.6 L1014.8,223.6" fill="none" stroke="#f2f2f2" stroke-width="0.5" stroke-linejoin="round"/>
<line x1="1113.3" y1="287.2" x2="1110.4" y2="299.2" stroke="#86868a" stroke-width="3.0"/><line x1="1113.6" y1="287.2" x2="1110.7" y2="299.2" stroke="#d4d4d6" stroke-width="1.3"/>
<line x1="1136.2" y1="286.8" x2="1139.9" y2="299.2" stroke="#86868a" stroke-width="3.0"/><line x1="1136.5" y1="286.8" x2="1140.2" y2="299.2" stroke="#d4d4d6" stroke-width="1.3"/>
<path d="M1104.40,229.68 L1104.40,280.74 C1104.40,286.28 1112.46,289.40 1124.55,289.40 C1136.64,289.40 1144.70,286.28 1144.70,280.74 L1144.70,229.68 C1144.70,222.69 1136.64,218.40 1124.55,218.40 C1112.46,218.40 1104.40,222.69 1104.40,229.68 Z" fill="url(#gBodyL)"/>
<g clip-path="url(#tc5)">
<rect x="1104.4" y="272.7" width="40.3" height="17.2" fill="url(#gBot)"/>
<path d="M1103.40,229.68 L1104.40,229.68 A20.15,8.06 0 0 0 1144.70,229.68 L1145.70,229.68 L1145.70,216.40 L1103.40,216.40 Z" fill="url(#gCapL)"/>
<path d="M1107.42,227.58 A17.13,6.61 0 0 0 1141.68,227.58" fill="none" stroke="url(#gDomeL)" stroke-width="5.80" stroke-linecap="round" filter="url(#bl2)"/>
<path d="M1104.40,230.68 C1104.40,222.69 1112.46,218.40 1124.55,218.40 C1136.64,218.40 1144.70,222.69 1144.70,230.68" fill="none" stroke="#7e7e7e" stroke-opacity="0.6" stroke-width="1.6" filter="url(#bl)"/>
<path d="M1104.40,230.18 A20.15,8.06 0 0 0 1144.70,230.18" fill="none" stroke="#787878" stroke-opacity="0.6" stroke-width="1.2" filter="url(#bl)"/>
</g>
<path d="M868,397 L899.5,410 Q903,411.4 906.5,409.8 L958.5,385.5 Q960.5,384.3 960,382 Q959.6,380 957,378.8 L947,374.5" fill="none" stroke="#9a9a9a" stroke-width="2.2" stroke-linejoin="round"/><path d="M868,397 L899.5,410 Q903,411.4 906.5,409.8 L958.5,385.5 Q960.5,384.3 960,382 Q959.6,380 957,378.8 L947,374.5" fill="none" stroke="#fbfbfb" stroke-width="1.1" stroke-linejoin="round"/>
<path d="M905,367.5 L923.5,375.2 Q927,377 923.5,378.8 L869,401.6" fill="none" stroke="#9a9a9a" stroke-width="1.9" stroke-linejoin="round"/><path d="M905,367.5 L923.5,375.2 Q927,377 923.5,378.8 L869,401.6" fill="none" stroke="#f6f6f6" stroke-width="0.8" stroke-linejoin="round"/>
<path d="M918.7,372.6 L929,376.2" fill="none" stroke="#9090a0" stroke-width="1.5" stroke-linejoin="round"/><path d="M918.7,372.6 L929,376.2" fill="none" stroke="#e0e0e8" stroke-width="0.4" stroke-linejoin="round"/>
<path d="M946.5,362.8 L950,364.2 Q952.5,365.6 950,367.4 L947,368.8" fill="none" stroke="#9a9a9a" stroke-width="1.8" stroke-linejoin="round"/><path d="M946.5,362.8 L950,364.2 Q952.5,365.6 950,367.4 L947,368.8" fill="none" stroke="#f6f6f6" stroke-width="0.7" stroke-linejoin="round"/>
<path d="M898.5,337.6 C902,336.6 906.5,336.6 910.5,338.3 L931,347.2 L931,361 L919,356.6 C914,354.6 910.5,352.4 908.5,350.4 L898.5,350.4 Z" fill="url(#gThick)"/>
<path d="M898.5,337.6 C902,336.6 906.5,336.6 910.5,338.3 L931,347.2" fill="none" stroke="#c4c4c4" stroke-width="0.7"/>
<path d="M931,361 L919,356.6 C914,354.6 910.5,352.4 908.5,350" fill="none" stroke="#9c9c9c" stroke-width="0.9" stroke-opacity="0.8"/>
<ellipse cx="927.6" cy="353.6" rx="2.6" ry="6.6" fill="#c2c2c2" transform="rotate(-8 927.6 353.6)" filter="url(#bl)"/>
<path d="M898.90,348.52 L898.90,364.28 C898.90,366.40 901.02,367.60 904.20,367.60 C907.38,367.60 909.50,366.40 909.50,364.28 L909.50,348.52 C909.50,346.34 907.38,345.00 904.20,345.00 C901.02,345.00 898.90,346.34 898.90,348.52 Z" fill="url(#gBodyL)"/>
<g clip-path="url(#cc4)">
<rect x="898.9" y="362.2" width="10.6" height="5.9" fill="url(#gBot)"/>
<path d="M897.90,348.52 L898.90,348.52 A5.30,2.12 0 0 0 909.50,348.52 L910.50,348.52 L910.50,343.00 L897.90,343.00 Z" fill="url(#gCapL)"/>
<path d="M899.70,347.97 A4.50,1.74 0 0 0 908.71,347.97" fill="none" stroke="url(#gDomeL)" stroke-width="1.53" stroke-linecap="round" filter="url(#bl)"/>
<path d="M898.90,349.52 C898.90,346.34 901.02,345.00 904.20,345.00 C907.38,345.00 909.50,346.34 909.50,349.52" fill="none" stroke="#7e7e7e" stroke-opacity="0.6" stroke-width="1.6" filter="url(#bl)"/>
<path d="M898.90,349.02 A5.30,2.12 0 0 0 909.50,349.02" fill="none" stroke="#787878" stroke-opacity="0.6" stroke-width="1.2" filter="url(#bl)"/>
</g>
<path d="M843.8,367 L843.8,313" fill="none" stroke="#8a8a8a" stroke-width="4.4" stroke-linejoin="round" stroke-linecap="butt"/><path d="M843.8,367 L843.8,313" fill="none" stroke="#bcbcbc" stroke-width="3.1" stroke-linejoin="round" stroke-linecap="butt"/><path d="M843.8,367 L843.8,313" fill="none" stroke="#dcdcdc" stroke-width="1.6" stroke-linejoin="round" stroke-linecap="butt"/>
<ellipse cx="843.8" cy="313" rx="2.2" ry="1.1" fill="#e6e6e6" stroke="#9a9a9a" stroke-width="0.5"/>
<line x1="861.9" y1="389.6" x2="858.6" y2="401.6" stroke="#86868a" stroke-width="3.0"/><line x1="862.2" y1="389.6" x2="858.9" y2="401.6" stroke="#d4d4d6" stroke-width="1.3"/>
<line x1="888.9" y1="389.2" x2="893.1" y2="401.6" stroke="#86868a" stroke-width="3.0"/><line x1="889.2" y1="389.2" x2="893.4" y2="401.6" stroke="#d4d4d6" stroke-width="1.3"/>
<path d="M851.50,320.73 L851.50,381.74 C851.50,388.18 860.96,391.80 875.15,391.80 C889.34,391.80 898.80,388.18 898.80,381.74 L898.80,320.73 C898.80,312.59 889.34,307.60 875.15,307.60 C860.96,307.60 851.50,312.59 851.50,320.73 Z" fill="url(#gBodyL)"/>
<g clip-path="url(#tc6)">
<rect x="851.5" y="372.3" width="47.3" height="20.0" fill="url(#gBot)"/>
<path d="M850.50,320.73 L851.50,320.73 A23.65,9.46 0 0 0 898.80,320.73 L899.80,320.73 L899.80,305.60 L850.50,305.60 Z" fill="url(#gCapL)"/>
<path d="M855.05,318.27 A20.10,7.76 0 0 0 895.25,318.27" fill="none" stroke="url(#gDomeL)" stroke-width="6.81" stroke-linecap="round" filter="url(#bl2)"/>
<path d="M851.50,321.73 C851.50,312.59 860.96,307.60 875.15,307.60 C889.34,307.60 898.80,312.59 898.80,321.73" fill="none" stroke="#7e7e7e" stroke-opacity="0.6" stroke-width="1.6" filter="url(#bl)"/>
<path d="M851.50,321.23 A23.65,9.46 0 0 0 898.80,321.23" fill="none" stroke="#787878" stroke-opacity="0.6" stroke-width="1.2" filter="url(#bl)"/>
</g>
<path d="M930.10,348.40 L930.10,396.50 C930.10,399.38 933.40,401.00 938.35,401.00 C943.30,401.00 946.60,399.38 946.60,396.50 L946.60,348.40 C946.60,345.49 943.30,343.70 938.35,343.70 C933.40,343.70 930.10,345.49 930.10,348.40 Z" fill="url(#gBodyL)"/>
<g clip-path="url(#cc5)">
<rect x="930.1" y="393.2" width="16.5" height="8.3" fill="url(#gBot)"/>
<path d="M929.10,348.40 L930.10,348.40 A8.25,3.30 0 0 0 946.60,348.40 L947.60,348.40 L947.60,341.70 L929.10,341.70 Z" fill="url(#gCapL)"/>
<path d="M931.34,347.54 A7.01,2.71 0 0 0 945.36,347.54" fill="none" stroke="url(#gDomeL)" stroke-width="2.38" stroke-linecap="round" filter="url(#bl)"/>
<path d="M930.10,349.40 C930.10,345.49 933.40,343.70 938.35,343.70 C943.30,343.70 946.60,345.49 946.60,349.40" fill="none" stroke="#7e7e7e" stroke-opacity="0.6" stroke-width="1.6" filter="url(#bl)"/>
<path d="M930.10,348.90 A8.25,3.30 0 0 0 946.60,348.90" fill="none" stroke="#787878" stroke-opacity="0.6" stroke-width="1.2" filter="url(#bl)"/>
</g>
<g opacity="0.55"><path d="M929.5,396.2 L947,388.1" fill="none" stroke="#9a9a9a" stroke-width="2.2" stroke-linejoin="round"/><path d="M929.5,396.2 L947,388.1" fill="none" stroke="#e8e8e8" stroke-width="1.1" stroke-linejoin="round"/></g>
<path d="M817.40,340.36 L817.40,357.94 C817.40,361.05 821.06,362.80 826.55,362.80 C832.04,362.80 835.70,361.05 835.70,357.94 L835.70,340.36 C835.70,337.22 832.04,335.30 826.55,335.30 C821.06,335.30 817.40,337.22 817.40,340.36 Z" fill="url(#gBodyL)"/>
<g clip-path="url(#cc6)">
<rect x="817.4" y="354.3" width="18.3" height="9.0" fill="url(#gBot)"/>
<path d="M816.40,340.36 L817.40,340.36 A9.15,3.66 0 0 0 835.70,340.36 L836.70,340.36 L836.70,333.30 L816.40,333.30 Z" fill="url(#gCapL)"/>
<path d="M818.77,339.41 A7.78,3.00 0 0 0 834.33,339.41" fill="none" stroke="url(#gDomeL)" stroke-width="2.64" stroke-linecap="round" filter="url(#bl)"/>
<path d="M817.40,341.36 C817.40,337.22 821.06,335.30 826.55,335.30 C832.04,335.30 835.70,337.22 835.70,341.36" fill="none" stroke="#7e7e7e" stroke-opacity="0.6" stroke-width="1.6" filter="url(#bl)"/>
<path d="M817.40,340.86 A9.15,3.66 0 0 0 835.70,340.86" fill="none" stroke="#787878" stroke-opacity="0.6" stroke-width="1.2" filter="url(#bl)"/>
</g>
<path d="M835,340 L837,340.8 Q838.8,341.6 838.8,343.6 L838.8,357 Q838.8,359.6 841,360.6" fill="none" stroke="#8f8f8f" stroke-width="1.7" stroke-linejoin="round"/><path d="M835,340 L837,340.8 Q838.8,341.6 838.8,343.6 L838.8,357 Q838.8,359.6 841,360.6" fill="none" stroke="#f2f2f2" stroke-width="0.6" stroke-linejoin="round"/>
<rect x="872.4" y="307.8" width="2.4" height="6" fill="#c4c4c4" stroke="#8d8d8d" stroke-width="0.5"/>
<path d="M873.6,310 L873.6,308.6 Q873.6,306.4 871.2,307.3 L832.6,322 Q826.2,324.4 826.2,330 L826.2,336" fill="none" stroke="#8a8a8a" stroke-width="3.2" stroke-linejoin="round" stroke-linecap="butt"/><path d="M873.6,310 L873.6,308.6 Q873.6,306.4 871.2,307.3 L832.6,322 Q826.2,324.4 826.2,330 L826.2,336" fill="none" stroke="#bcbcbc" stroke-width="1.9" stroke-linejoin="round" stroke-linecap="butt"/><path d="M873.6,310 L873.6,308.6 Q873.6,306.4 871.2,307.3 L832.6,322 Q826.2,324.4 826.2,330 L826.2,336" fill="none" stroke="#dcdcdc" stroke-width="0.8" stroke-linejoin="round" stroke-linecap="butt"/>
<path d="M843.5,361.2 L855,356.4" fill="none" stroke="#8f8f8f" stroke-width="1.6" stroke-linejoin="round"/><path d="M843.5,361.2 L855,356.4" fill="none" stroke="#f2f2f2" stroke-width="0.5" stroke-linejoin="round"/>
<path d="M832.5,367.6 L842,364.2" fill="none" stroke="#8f8f8f" stroke-width="1.5" stroke-linejoin="round"/><path d="M832.5,367.6 L842,364.2" fill="none" stroke="#f2f2f2" stroke-width="0.4" stroke-linejoin="round"/>
<path d="M840.0999999999999,368.08 L840.0999999999999,372.12 A4.7,1.8800000000000001 0 0 0 849.5,372.12 L849.5,368.08 Z" fill="url(#gBody)"/><ellipse cx="844.8" cy="368.08" rx="4.7" ry="1.8800000000000001" fill="#b4b4b4" stroke="#8a8a8a" stroke-width="0.5"/>
<path d="M786.9,358.8 L797.2,354.2 L867.5,384.2 L858,389.3 Z" fill="#b5b5b5"/>
<path d="M858,389.3 L867.5,384.2 L867.5,426.2 L858,431.4 Z" fill="#a7a7a7"/>
<path d="M786.9,358.8 L858,389.3 L858,431.4 L786.9,403.9 Z" fill="#b4b4b4"/>
<path d="M786.9,358.8 L822.2,374.6 L822.2,417.7 L786.9,403.9 Z" fill="url(#gPanel)"/>
<path d="M823.6,375.1 L858,389.3 L858,431.4 L823.6,417.9 Z" fill="url(#gPanel)"/>
<path d="M823,375.4 L823,418" stroke="#b9b9b9" stroke-width="1.4"/>
<path d="M820.6,373.6 L826.8,370.6" stroke="#9a9a9a" stroke-width="0.8"/>
<path d="M787.4,360.2 L787.4,403.6" stroke="#9c9c9c" stroke-width="1" stroke-opacity="0.8"/>
<path d="M786.9,358.8 L858,389.3" stroke="#c6c6c6" stroke-width="0.7" fill="none"/>
<path d="M794.5,374.2 L812.8,382 L812.8,393.6 M802.4,377.8 L802.4,389.8" stroke="#b4b4b4" stroke-width="0.8" fill="none"/>
<path d="M665.3,542.6 L678.8,536.2 L754.5,566.4 L754.5,582.4 L666.5,546.8 Q664.6,545.2 665.3,542.6 Z" fill="#8b8b8b"/>
<path d="M666,542.4 L678.8,536.6 L754.5,566.8 L754.5,577.4 Z" fill="url(#gBelt)"/>
<path d="M665.6,543.6 L754.5,578.6 L754.5,581 L666.6,546 Z" fill="#cfcfcf"/>
<path d="M665.6,543.2 L754.5,578.2" stroke="#6f6f6f" stroke-width="0.7"/>
<path d="M666.8,546.6 L754.5,582" stroke="#777" stroke-width="0.8"/>
<path d="M669,544.9 l3.2,1.3 l-1.2,1.3 Z" fill="#5a5a5a"/>
<path d="M690.5,553.5 l3.2,1.3 l-1.2,1.3 Z" fill="#5a5a5a"/>
<path d="M716.5,563.8 l3.2,1.3 l-1.2,1.3 Z" fill="#5a5a5a"/>
<path d="M743,574.4 l3.2,1.3 l-1.2,1.3 Z" fill="#5a5a5a"/>
<g fill="#a9d39a" fill-opacity="0.75"><path d="M681.7,541.8 L681.7,535.6 L682.8,532.6 L682.8,528.8 L683.7,528.8 L683.7,532.6 L684.7,535.6 L684.7,541.8 Z"/><path d="M686.0,543.6 L686.0,537.4 L687.0,534.4 L687.0,530.6 L688.0,530.6 L688.0,534.4 L689.0,537.4 L689.0,543.6 Z"/><path d="M690.3,545.3 L690.3,539.1 L691.4,536.1 L691.4,532.3 L692.3,532.3 L692.3,536.1 L693.3,539.1 L693.3,545.3 Z"/><path d="M694.6,547.1 L694.6,540.9 L695.6,537.9 L695.6,534.1 L696.6,534.1 L696.6,537.9 L697.6,540.9 L697.6,547.1 Z"/><path d="M698.9,548.9 L698.9,542.7 L700.0,539.7 L700.0,535.9 L700.9,535.9 L700.9,539.7 L701.9,542.7 L701.9,548.9 Z"/><path d="M684.9,539.2 L684.9,533.0 L686.0,530.0 L686.0,526.2 L686.9,526.2 L686.9,530.0 L687.9,533.0 L687.9,539.2 Z"/><path d="M689.2,541.0 L689.2,534.8 L690.2,531.8 L690.2,528.0 L691.2,528.0 L691.2,531.8 L692.2,534.8 L692.2,541.0 Z"/><path d="M693.5,542.7 L693.5,536.5 L694.6,533.5 L694.6,529.7 L695.5,529.7 L695.5,533.5 L696.5,536.5 L696.5,542.7 Z"/><path d="M697.8,544.5 L697.8,538.3 L698.9,535.3 L698.9,531.5 L699.8,531.5 L699.8,535.3 L700.8,538.3 L700.8,544.5 Z"/><path d="M702.1,546.3 L702.1,540.1 L703.2,537.1 L703.2,533.3 L704.1,533.3 L704.1,537.1 L705.1,540.1 L705.1,546.3 Z"/></g>
<g fill="#a9d39a" fill-opacity="0.75"><path d="M713.5,554.8 L713.5,548.6 L714.5,545.6 L714.5,541.8 L715.5,541.8 L715.5,545.6 L716.5,548.6 L716.5,554.8 Z"/><path d="M717.8,556.6 L717.8,550.4 L718.8,547.4 L718.8,543.6 L719.8,543.6 L719.8,547.4 L720.8,550.4 L720.8,556.6 Z"/><path d="M722.1,558.3 L722.1,552.1 L723.1,549.1 L723.1,545.3 L724.1,545.3 L724.1,549.1 L725.1,552.1 L725.1,558.3 Z"/><path d="M726.4,560.1 L726.4,553.9 L727.4,550.9 L727.4,547.1 L728.4,547.1 L728.4,550.9 L729.4,553.9 L729.4,560.1 Z"/><path d="M730.7,561.9 L730.7,555.7 L731.8,552.7 L731.8,548.9 L732.7,548.9 L732.7,552.7 L733.7,555.7 L733.7,561.9 Z"/><path d="M735.0,563.6 L735.0,557.4 L736.0,554.4 L736.0,550.6 L737.0,550.6 L737.0,554.4 L738.0,557.4 L738.0,563.6 Z"/><path d="M716.7,552.2 L716.7,546.0 L717.8,543.0 L717.8,539.2 L718.7,539.2 L718.7,543.0 L719.7,546.0 L719.7,552.2 Z"/><path d="M721.0,554.0 L721.0,547.8 L722.0,544.8 L722.0,541.0 L723.0,541.0 L723.0,544.8 L724.0,547.8 L724.0,554.0 Z"/><path d="M725.3,555.7 L725.3,549.5 L726.4,546.5 L726.4,542.7 L727.3,542.7 L727.3,546.5 L728.3,549.5 L728.3,555.7 Z"/><path d="M729.6,557.5 L729.6,551.3 L730.6,548.3 L730.6,544.5 L731.6,544.5 L731.6,548.3 L732.6,551.3 L732.6,557.5 Z"/><path d="M733.9,559.3 L733.9,553.1 L735.0,550.1 L735.0,546.3 L735.9,546.3 L735.9,550.1 L736.9,553.1 L736.9,559.3 Z"/><path d="M738.2,561.0 L738.2,554.8 L739.2,551.8 L739.2,548.0 L740.2,548.0 L740.2,551.8 L741.2,554.8 L741.2,561.0 Z"/></g>
<g fill="#a9d39a" fill-opacity="0.75"><path d="M747.1,569.0 L747.1,562.8 L748.1,559.8 L748.1,556.0 L749.1,556.0 L749.1,559.8 L750.1,562.8 L750.1,569.0 Z"/><path d="M751.4,570.8 L751.4,564.6 L752.4,561.6 L752.4,557.8 L753.4,557.8 L753.4,561.6 L754.4,564.6 L754.4,570.8 Z"/></g>
<path d="M754.2,545.2 L799.5,526.4 L840.5,544.2 L840.5,609 L796.6,629.6 L754.2,611.8 Z" fill="#6f6f6f"/>
<path d="M804.6,573.2 L832.4,561.6 L832.4,603 L804.6,612.4 Z" fill="#b7b7bb"/>
<path d="M804.6,573.2 L832.4,561.6 L832.4,566 L808,576.4 L808,611 L804.6,612.4 Z" fill="#8e8e8e" fill-opacity="0.55"/>
<path d="M754.2,545.2 L799.5,526.4 L840.5,544.2 L796.6,563.6 Z" fill="url(#gBoxT)"/>
<path d="M754.2,545.2 L796.6,563.6 L796.6,629.6 L754.2,611.8 Z" fill="url(#gBoxL)"/>
<path d="M754.2,545.2 L796.6,563.6 L796.6,629.6 L754.2,611.8 Z" fill="url(#gBoxLv)"/>
<path d="M754.2,545.2 L796.6,563.6 L840.5,544.2" fill="none" stroke="#b8b8b8" stroke-width="0.8" stroke-opacity="0.7"/>
<path d="M799.9,528 L799.9,506 Q799.9,502.8 802.8,501.6 L815.8,496.2" fill="none" stroke="#8a8a8a" stroke-width="2.6" stroke-linejoin="round"/><path d="M799.9,528 L799.9,506 Q799.9,502.8 802.8,501.6 L815.8,496.2" fill="none" stroke="#fdfdfd" stroke-width="1.5" stroke-linejoin="round"/>
<path d="M799.9,527 L799.9,545" stroke="#c4c4c4" stroke-width="1.6" stroke-opacity="0.6"/>
<path d="M804.6,602 L804.6,612.6 L817,607.8 Z" fill="#595959"/>
<path d="M804.6,597.6 L832.4,586.6 L836,588.2 L921.5,624.4 Q925.5,626.8 924.6,630 Q923.8,632 920,633.8 L902.5,641.4 Q899.6,642.4 896.5,641 L804.6,603.2 Z" fill="#8a8a8a"/>
<path d="M804.6,597.4 L832.4,586.4 L921.5,624.2 Q925,626.4 923,628.6 L900,638.4 Q897.5,639 895,638 L804.6,599.8 Z" fill="url(#gBelt)"/>
<path d="M804.6,600.2 L895,638.6 Q897.5,639.6 900,639 L900,641.4 Q897.6,642 895,641 L804.6,603 Z" fill="#cdcdcd"/>
<path d="M804.6,599.8 L895,638.2 Q897.5,639.2 900.5,638.4 L923,628.8" fill="none" stroke="#707070" stroke-width="0.7"/>
<path d="M804.6,603.4 L895,641.4 Q898,642.4 901,641.4" fill="none" stroke="#777" stroke-width="0.8"/>
<path d="M820.5,607.6 l3.2,1.3 l-1.2,1.3 Z" fill="#555"/>
<path d="M846,618.2 l3.2,1.3 l-1.2,1.3 Z" fill="#555"/>
<path d="M872,628.9 l3.2,1.3 l-1.2,1.3 Z" fill="#555"/>
<g fill="#b9b822" fill-opacity="0.92"><path d="M810.5,594.4 L810.5,588.9 L811.5,586.3 L811.5,583.0 L812.5,583.0 L812.5,586.3 L813.5,588.9 L813.5,594.4 Z"/><path d="M814.8,596.2 L814.8,590.7 L815.8,588.1 L815.8,584.7 L816.8,584.7 L816.8,588.1 L817.8,590.7 L817.8,596.2 Z"/><path d="M819.1,597.9 L819.1,592.5 L820.1,589.8 L820.1,586.5 L821.1,586.5 L821.1,589.8 L822.1,592.5 L822.1,597.9 Z"/><path d="M823.4,599.7 L823.4,594.2 L824.4,591.6 L824.4,588.2 L825.4,588.2 L825.4,591.6 L826.4,594.2 L826.4,599.7 Z"/><path d="M827.7,601.5 L827.7,596.0 L828.8,593.4 L828.8,590.0 L829.7,590.0 L829.7,593.4 L830.7,596.0 L830.7,601.5 Z"/><path d="M832.0,603.2 L832.0,597.8 L833.0,595.1 L833.0,591.8 L834.0,591.8 L834.0,595.1 L835.0,597.8 L835.0,603.2 Z"/><path d="M813.7,591.8 L813.7,586.3 L814.8,583.7 L814.8,580.4 L815.7,580.4 L815.7,583.7 L816.7,586.3 L816.7,591.8 Z"/><path d="M818.0,593.6 L818.0,588.1 L819.0,585.5 L819.0,582.1 L820.0,582.1 L820.0,585.5 L821.0,588.1 L821.0,593.6 Z"/><path d="M822.3,595.3 L822.3,589.9 L823.4,587.2 L823.4,583.9 L824.3,583.9 L824.3,587.2 L825.3,589.9 L825.3,595.3 Z"/><path d="M826.6,597.1 L826.6,591.6 L827.6,589.0 L827.6,585.6 L828.6,585.6 L828.6,589.0 L829.6,591.6 L829.6,597.1 Z"/><path d="M830.9,598.9 L830.9,593.4 L832.0,590.8 L832.0,587.4 L832.9,587.4 L832.9,590.8 L833.9,593.4 L833.9,598.9 Z"/><path d="M835.2,600.6 L835.2,595.2 L836.2,592.5 L836.2,589.2 L837.2,589.2 L837.2,592.5 L838.2,595.2 L838.2,600.6 Z"/></g>
<g fill="#b9b822" fill-opacity="0.92"><path d="M843.0,605.6 L843.0,600.1 L844.0,597.5 L844.0,594.2 L845.0,594.2 L845.0,597.5 L846.0,600.1 L846.0,605.6 Z"/><path d="M847.3,607.4 L847.3,601.9 L848.3,599.3 L848.3,595.9 L849.2,595.9 L849.2,599.3 L850.3,601.9 L850.3,607.4 Z"/><path d="M851.6,609.1 L851.6,603.7 L852.6,601.0 L852.6,597.7 L853.6,597.7 L853.6,601.0 L854.6,603.7 L854.6,609.1 Z"/><path d="M855.9,610.9 L855.9,605.4 L856.9,602.8 L856.9,599.4 L857.9,599.4 L857.9,602.8 L858.9,605.4 L858.9,610.9 Z"/><path d="M860.2,612.7 L860.2,607.2 L861.2,604.6 L861.2,601.2 L862.2,601.2 L862.2,604.6 L863.2,607.2 L863.2,612.7 Z"/><path d="M864.5,614.4 L864.5,609.0 L865.5,606.3 L865.5,603.0 L866.5,603.0 L866.5,606.3 L867.5,609.0 L867.5,614.4 Z"/><path d="M846.2,603.0 L846.2,597.5 L847.2,594.9 L847.2,591.6 L848.2,591.6 L848.2,594.9 L849.2,597.5 L849.2,603.0 Z"/><path d="M850.5,604.8 L850.5,599.3 L851.5,596.7 L851.5,593.3 L852.5,593.3 L852.5,596.7 L853.5,599.3 L853.5,604.8 Z"/><path d="M854.8,606.5 L854.8,601.1 L855.9,598.4 L855.9,595.1 L856.8,595.1 L856.8,598.4 L857.8,601.1 L857.8,606.5 Z"/><path d="M859.1,608.3 L859.1,602.8 L860.1,600.2 L860.1,596.8 L861.1,596.8 L861.1,600.2 L862.1,602.8 L862.1,608.3 Z"/><path d="M863.4,610.1 L863.4,604.6 L864.5,602.0 L864.5,598.6 L865.4,598.6 L865.4,602.0 L866.4,604.6 L866.4,610.1 Z"/><path d="M867.7,611.8 L867.7,606.4 L868.8,603.7 L868.8,600.4 L869.7,600.4 L869.7,603.7 L870.7,606.4 L870.7,611.8 Z"/></g>
<g fill="#b9b822" fill-opacity="0.92"><path d="M876.7,618.6 L876.7,613.1 L877.8,610.5 L877.8,607.2 L878.7,607.2 L878.7,610.5 L879.7,613.1 L879.7,618.6 Z"/><path d="M881.0,620.4 L881.0,614.9 L882.0,612.3 L882.0,608.9 L883.0,608.9 L883.0,612.3 L884.0,614.9 L884.0,620.4 Z"/><path d="M885.3,622.1 L885.3,616.7 L886.4,614.0 L886.4,610.7 L887.3,610.7 L887.3,614.0 L888.3,616.7 L888.3,622.1 Z"/><path d="M889.6,623.9 L889.6,618.4 L890.6,615.8 L890.6,612.4 L891.6,612.4 L891.6,615.8 L892.6,618.4 L892.6,623.9 Z"/><path d="M893.9,625.7 L893.9,620.2 L895.0,617.6 L895.0,614.2 L895.9,614.2 L895.9,617.6 L896.9,620.2 L896.9,625.7 Z"/><path d="M898.2,627.4 L898.2,622.0 L899.2,619.3 L899.2,616.0 L900.2,616.0 L900.2,619.3 L901.2,622.0 L901.2,627.4 Z"/><path d="M879.9,616.0 L879.9,610.5 L881.0,607.9 L881.0,604.6 L881.9,604.6 L881.9,607.9 L882.9,610.5 L882.9,616.0 Z"/><path d="M884.2,617.8 L884.2,612.3 L885.2,609.7 L885.2,606.3 L886.2,606.3 L886.2,609.7 L887.2,612.3 L887.2,617.8 Z"/><path d="M888.5,619.5 L888.5,614.1 L889.6,611.4 L889.6,608.1 L890.5,608.1 L890.5,611.4 L891.5,614.1 L891.5,619.5 Z"/><path d="M892.8,621.3 L892.8,615.8 L893.9,613.2 L893.9,609.8 L894.8,609.8 L894.8,613.2 L895.8,615.8 L895.8,621.3 Z"/><path d="M897.1,623.1 L897.1,617.6 L898.2,615.0 L898.2,611.6 L899.1,611.6 L899.1,615.0 L900.1,617.6 L900.1,623.1 Z"/><path d="M901.4,624.8 L901.4,619.4 L902.5,616.7 L902.5,613.4 L903.4,613.4 L903.4,616.7 L904.4,619.4 L904.4,624.8 Z"/></g>
<path d="M832.4,561.6 L840.5,558 L840.5,590.2 L832.4,586.6 Z" fill="#6f6f6f"/>
<ellipse cx="1127.2" cy="717.4" rx="9" ry="10.6" fill="#242424"/>
<ellipse cx="1131.6" cy="716.6" rx="8.6" ry="10.6" fill="url(#gWheel)"/>
<ellipse cx="1147.4" cy="709.4" rx="8.6" ry="10.2" fill="#242424"/>
<ellipse cx="1150.4" cy="708.8" rx="8" ry="10.2" fill="url(#gWheel)"/>
<path d="M1060.2,699 L1060.4,690 Q1061,685 1065.4,683.2 L1088.7,673.8 L1172.2,639.6 L1173.4,640.2 L1173.4,691.6 L1160,697.4 L1160,699.2 L1088.6,731 L1060.2,742 Z" fill="url(#gTrSide)"/>
<path d="M1172,639.8 L1173.4,640.4 L1173.4,691.6 L1172,692.2 Z" fill="#b2b2b2"/>
<path d="M1061.6,661.3 L1140.7,628.5 L1172.6,639.8 L1089,674.2 Z" fill="url(#gTrTop)"/>
<path d="M1061.6,661.3 L1140.7,628.5 L1172.6,639.8" fill="none" stroke="#c6c6c6" stroke-width="0.8"/>
<path d="M1053.8,660.3 L1061.6,661.3 L1089,674.2 L1088.4,674.6 Z" fill="#bcbcbc"/>
<path d="M1027.7,678.2 Q1028.6,671.6 1031.5,669.6 L1065,683.4 Q1060.6,686 1060.6,699 L1027.7,685.2 Z" fill="#b1b1b1"/>
<path d="M1031.5,669.6 L1053.8,660.3 L1088.4,674.2 L1065,683.4 Z" fill="#d7d7d7"/>
<path d="M1028.6,674.6 L1062,688" stroke="#c9c9c9" stroke-width="1.8" stroke-opacity="0.75"/>
<path d="M1065,683.4 Q1060.8,686 1060.6,694" fill="none" stroke="#a9a9a9" stroke-width="1.2"/>
<path d="M1062.7,740.4 L1087.1,731.4 L1088.5,740.2 L1088.5,742 L1064.7,751.3 L1062.7,750.6 Z" fill="#6c6c6c"/>
<path d="M1062.7,740.4 L1087.1,731.4 L1088.5,732.6 L1064.5,741.8 Z" fill="#858585"/>
<path d="M1032.1,710.3 L1060.6,698.7 L1062,752.8 L1027.3,764.6 L1027.3,734 Z" fill="#a1a1a1"/>
<path d="M1036,712 L1051.1,706.4 L1051.1,725.8 L1039,730.6 L1034.6,729.4 Z" fill="#8f8f8f"/>
<ellipse cx="1045.4" cy="757.4" rx="7.6" ry="10.2" fill="#262626"/>
<ellipse cx="1047.2" cy="757.2" rx="7.3" ry="10.2" fill="url(#gWheel)"/>
<path d="M1039.6,752 Q1041.5,746.6 1047.2,746.6 Q1052.6,746.8 1054.6,752.6" fill="none" stroke="#6a6a6a" stroke-width="1.6" stroke-opacity="0.7" filter="url(#bl)"/>
<path d="M994,693.3 L1020.5,681.7 L1060.6,698.7 L1032.1,710.3 Z" fill="#a9a9a9"/>
<path d="M1020.5,681.7 L1060.6,698.7" stroke="#b8b8b8" stroke-width="0.8"/>
<path d="M994,693.3 L1032.1,710.3 L1027.3,734 L1027.3,764.6 L985.2,747 L985.2,716.4 Z" fill="url(#gCabF)"/>
<path d="M996,698.2 L1030.2,712.8 L1026,733.6 L996.6,722.4 Q992,720.6 993,716 Z" fill="url(#gWind)" filter="url(#bl)"/>
<path d="M1032.1,710.3 L1027.3,734 L1027.3,764.6" fill="none" stroke="#d8d8d8" stroke-width="0.9"/>
<path d="M994,693.3 L1032.1,710.3" fill="none" stroke="#c8c8c8" stroke-width="0.9"/>
<path d="M994,693.3 L985.2,716.4 L985.2,747" fill="none" stroke="#d6d6d6" stroke-width="0.8"/>
</svg>
</body></html>
